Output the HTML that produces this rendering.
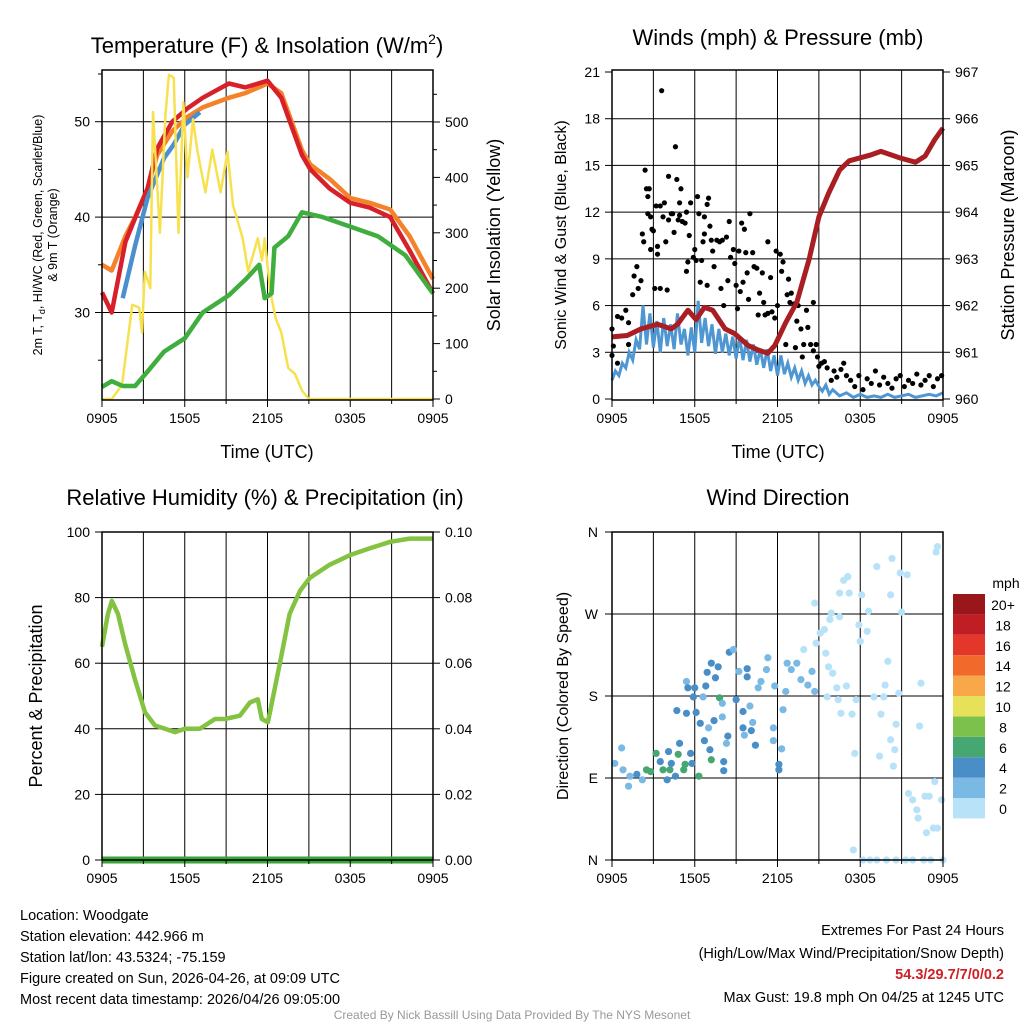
<!DOCTYPE html>
<html><head><meta charset="utf-8"><style>
html,body{margin:0;padding:0;background:#fff;}
svg{display:block;font-family:"Liberation Sans",Arial,sans-serif;}
</style></head><body>
<svg id="c" width="1024" height="1024" viewBox="0 0 1024 1024">
<rect width="1024" height="1024" fill="#fff"/>
</svg>
<script>
// ---------- data (time in hours since 0905 UTC) ----------
const tempT   = [0,0.7,1.7,2.4,3.3,4.0,5.1,6.2,7.3,9.2,10.4,12,13,14.5,15.1,16.5,18,19.4,20.9,22.3,24];
const tempRed = [32.1,30,37.4,39.9,43,47.2,50,51.4,52.5,54,53.6,54.3,52.5,46.5,45,43,41.5,41,40,36.5,32];
const tempOrg = [35,34.4,38,40,43,46.5,49,50.5,51.5,52.5,53,54,53,47,45.5,44,42,41.5,40.8,38,33.5];
const hiT     = [1.5,2.4,3.3,4.5,5.2,6,7.1];
const hiBlue  = [31.5,37,42,46.2,47.6,49.7,51];
const dewT    = [0,0.7,1.5,2.4,3.3,4.5,6,7.3,9.2,10.5,11.4,11.8,12.3,12.5,13.5,14.5,16,18,20,22,24];
const dewGrn  = [22.2,22.8,22.3,22.3,23.8,25.9,27.3,30,31.8,33.6,35,31.5,32,36.8,38,40.5,40,39,38,36,32];
const solT    = [0,0.7,1.45,2.2,2.7,2.9,3.1,3.5,3.7,4.2,4.6,4.85,5.2,5.55,5.9,6.2,6.6,6.9,7.5,8,8.6,9.1,9.5,10.2,10.6,11.3,11.6,11.8,12.2,12.6,13,13.5,14,14.5,15,24];
const solVal  = [0,0,25,170,165,120,230,200,518,300,512,585,580,300,536,400,505,450,373,450,373,446,350,290,230,290,250,290,193,145,120,56,45,15,0,0];
const windT   = [0,0.25,0.5,0.75,1,1.25,1.5,1.75,2,2.25,2.5,2.75,3,3.25,3.5,3.75,4,4.25,4.5,4.75,5,5.25,5.5,5.75,6,6.25,6.5,6.75,7,7.25,7.5,7.75,8,8.25,8.5,8.75,9,9.25,9.5,9.75,10,10.25,10.5,10.75,11,11.25,11.5,11.75,12,12.25,12.5,12.75,13,13.25,13.5,13.75,14,14.25,14.5,14.75,15,15.25,15.5,15.75,16,16.5,17,17.5,18,18.5,19,19.5,20,20.5,21,21.5,22,22.5,23,23.5,24];
const windBlue= [1.2,1.8,1.5,2.3,2.0,3.0,2.5,3.8,3.2,6.0,3.5,5.5,3.3,5.0,3.0,5.2,3.4,4.8,3.2,5.5,3.5,4.5,2.8,4.6,3.0,6.3,3.6,5.2,3.4,4.8,2.9,4.5,3.0,4.2,2.8,4.0,2.6,4.0,2.5,3.8,2.4,3.5,2.2,3.2,2.0,3.2,1.8,2.8,1.5,2.8,1.6,2.3,1.4,2.0,1.2,1.8,1.0,1.5,0.9,1.2,0.8,0.5,0.9,0.3,0.6,0.2,0.4,0.1,0.3,0.1,0.2,0.1,0.3,0.1,0.2,0.3,0.1,0.2,0.3,0.2,0.4];
const gusts = [[0,4.5],[0.1,3.4],[0,2.8],[0.4,2.3],[0.4,5.3],[0.7,5.2],[1,5.7],[1.2,4.9],[1.2,3.5],[1.5,6.7],[1.6,7.9],[1.8,8.5],[1.9,7.1],[2.1,7.6],[2.2,10.6],[2.3,10.1],[2.4,14.7],[2.5,13.5],[2.7,13.5],[2.6,13.0],[2.6,11.9],[2.8,11.7],[2.8,9.6],[2.9,10.9],[3,10.8],[3.1,7.1],[3.2,12.4],[3.3,9.8],[3.3,9.3],[3.5,12.4],[3.5,7.1],[3.6,19.8],[3.7,11.7],[3.8,12.6],[3.9,10.1],[4,7],[4.1,14.3],[4.1,11.5],[4.3,11.9],[4.4,11.9],[4.5,10.7],[4.6,16.2],[4.7,14.1],[4.8,11.5],[4.9,12.6],[4.9,11.8],[5,13.5],[5.1,11.4],[5.3,11.3],[5.4,8.2],[5.4,12],[5.5,8.8],[5.6,10.5],[5.7,12.6],[5.9,9.1],[6,9.6],[6.1,8.9],[6.2,13],[6.3,11.9],[6.4,7.5],[6.5,8.9],[6.6,10.1],[6.7,10.6],[6.7,11.7],[6.9,7.3],[6.9,12.5],[7,12.9],[7.1,11.1],[7.2,10.2],[7.3,9.5],[7.4,8.5],[7.6,10.2],[7.8,10.1],[7.9,7.1],[8,10.2],[8.1,6],[8.3,10.4],[8.4,7.6],[8.5,11.4],[8.6,9.1],[8.8,9.6],[8.9,8.7],[9,7.3],[9.1,5.8],[9.2,9.5],[9.3,6.9],[9.4,11.3],[9.5,7.5],[9.6,10.9],[9.7,9.4],[9.8,8.1],[9.9,6.4],[10,11.9],[10.2,9.4],[10.3,8.5],[10.5,8.4],[10.6,5.4],[10.7,6.8],[10.9,8.1],[11,6.2],[11.1,5.4],[11.3,10.1],[11.3,5.5],[11.5,7.8],[11.6,5.6],[11.8,5.2],[11.9,9.5],[12,6],[12.2,9.3],[12.3,8.2],[12.4,8.8],[12.6,3.5],[12.7,6.7],[12.8,7.7],[12.9,6.2],[13,6.8],[13.2,6.1],[13.3,3.3],[13.4,5.0],[13.5,6],[13.7,4.5],[13.8,2.7],[13.9,3.5],[14.1,5.7],[14.2,4.6],[14.4,3.5],[14.6,6.2],[14.6,3.1],[14.8,3.5],[14.9,2.7],[15,2.1],[15.2,2.3],[15.4,2.4],[15.6,2],[15.9,1.2],[16.1,1.8],[16.3,1.4],[16.6,1.9],[16.8,2.3],[17,1.5],[17.3,1.2],[17.6,0.8],[17.9,1.5],[18.2,0.6],[18.5,1.3],[18.8,1.0],[19.1,1.8],[19.4,0.9],[19.7,1.4],[20,1.0],[20.3,0.7],[20.6,1.3],[20.9,1.5],[21.2,0.8],[21.5,1.2],[21.8,1.0],[22.1,1.6],[22.4,0.9],[22.7,1.2],[23,1.5],[23.3,0.8],[23.6,1.3],[23.9,1.5]];
const presT   = [0,1.1,2.1,3.3,4.3,4.75,5.5,6.1,6.7,7.3,8.2,8.9,9.9,10.6,11.3,11.8,12.6,13.4,14.3,15,15.7,16.5,17.2,18.7,19.5,20.9,22,22.7,23.4,24];
const presVal = [961.33,961.36,961.5,961.6,961.5,961.6,961.9,961.7,961.96,961.9,961.5,961.4,961.14,961.05,960.98,961.14,961.64,962.07,963.0,963.9,964.4,964.9,965.1,965.22,965.3,965.16,965.07,965.2,965.55,965.8];
const rhT     = [0,0.43,0.72,1.16,1.67,2.39,3.12,3.84,4.57,5.29,6.01,7.1,8.19,8.91,10,10.72,11.3,11.59,12.03,12.32,12.9,13.6,14.35,15.07,16.5,18,19.4,20.9,22.3,24];
const rhVal   = [65,75,79,75,66,55,45,41,40,39,40,40,43,43,44,48,49,43,42,48,60,75,82,86,90,93,95,97,98,98];
const precipT = [0,24];
const precipVal = [0,0];
const dirPts = [[0.2,106,3],[0.7,123,3],[0.8,99,3],[1.2,81,3],[1.3,92,3],[1.8,94,5],[2.2,88,3],[2.5,99,7],[2.8,97,7],[3.2,117,7],[3.5,108,5],[3.7,99,7],[4.0,88,5],[4.1,119,5],[4.2,99,7],[4.3,106,5],[4.6,92,5],[4.8,116,7],[4.9,128,5],[5.2,99,7],[5.3,105,7],[5.7,117,5],[5.8,106,5],[6.3,92,7],[5.4,196,3],[5.5,189,5],[6.0,189,5],[5.9,179,5],[4.7,164,5],[5.4,161,5],[6.1,162,5],[6.4,150,5],[6.6,179,3],[6.8,191,5],[6.9,206,5],[7.2,216,5],[7.5,200,5],[7.7,212,5],[7.8,178,7],[8.0,172,3],[7.4,153,5],[7.0,145,3],[6.7,131,5],[7.1,121,5],[7.2,110,7],[8.1,108,5],[8.1,98,5],[8.0,157,3],[8.3,128,3],[8.4,136,5],[8.5,228,5],[8.8,231,3],[9.0,176,5],[9.2,207,3],[9.5,163,5],[9.8,210,5],[9.8,201,5],[10.0,169,3],[9.5,145,5],[9.6,137,3],[10.1,142,5],[10.4,126,5],[10.2,151,3],[10.6,189,3],[10.8,196,3],[11.2,209,3],[11.3,222,3],[11.7,145,3],[11.8,191,3],[12.1,99,5],[12.1,105,5],[12.3,122,3],[12.4,165,3],[11.7,131,3],[12.6,185,3],[12.7,216,3],[13.0,209,3],[13.4,216,3],[13.7,198,3],[13.9,231,1],[14.2,192,3],[14.5,207,3],[14.7,185,3],[14.7,282,1],[14.8,238,1],[15.1,249,1],[15.4,253,1],[15.5,227,1],[15.6,179,1],[15.7,212,1],[15.8,264,1],[15.9,271,1],[16.0,205,1],[16.3,189,1],[16.4,176,1],[16.5,293,1],[16.5,267,1],[16.6,161,1],[16.8,307,1],[17.0,191,1],[17.1,311,1],[17.2,293,1],[17.4,160,1],[17.6,117,1],[17.7,176,1],[17.9,258,1],[18.0,240,1],[18.1,291,1],[18.5,251,1],[18.6,273,1],[19.0,179,1],[19.2,322,1],[19.4,114,1],[19.5,160,1],[19.7,179,1],[19.8,192,1],[20.0,218,1],[20.2,291,1],[20.2,132,1],[20.3,331,1],[20.4,103,1],[20.5,121,1],[20.6,149,1],[20.8,183,1],[20.9,315,1],[21.0,272,1],[21.4,313,1],[21.5,73,1],[21.8,66,1],[22.1,55,1],[22.2,46,1],[22.3,147,1],[22.4,194,1],[22.7,70,1],[22.8,30,1],[23.0,70,1],[23.3,35,1],[23.4,86,1],[23.5,338,1],[23.6,344,1],[23.9,66,1],[23.6,35,1],[17.5,11,1],[18.2,0,1],[18.7,0,1],[19.2,0,1],[19.9,0,1],[20.6,0,1],[21.3,0,1],[21.8,0,1],[22.6,0,1],[23.1,0,1],[24.0,0,1]];
const xTickLabels = ["0905","1505","2105","0305","0905"];
const tempTicks = [30,40,50];
const solTicks = [0,100,200,300,400,500];
const windTicks = [0,3,6,9,12,15,18,21];
const presTicks = [960,961,962,963,964,965,966,967];
const rhTicks = [0,20,40,60,80,100];
const prTicks = ["0.00","0.02","0.04","0.06","0.08","0.10"];
const dirTicks = ["N","E","S","W","N"];
const speedLabels = ["0","2","4","6","8","10","12","14","16","18","20+"];
const speedColors = ["#b7e2f8","#7bb9e5","#4a8ec7","#46a772","#7cc14c","#e7e15a","#f8a848","#f26a2b","#e3372b","#c01d25","#99161b"];

// ---------- helpers ----------
const svg = document.getElementById('c');
const NS = 'http://www.w3.org/2000/svg';
function mk(tag, attrs, parent){const e=document.createElementNS(NS,tag);for(const k in attrs)e.setAttribute(k,attrs[k]);(parent||svg).appendChild(e);return e;}
function txt(x,y,s,size,anchor,parent,extra){const e=mk('text',Object.assign({x:x,y:y,'font-size':size,'text-anchor':anchor||'middle',fill:'#000'},extra||{}),parent);e.textContent=s;return e;}
function lin(d0,d1,r0,r1){return v=>r0+(v-d0)*(r1-r0)/(d1-d0);}
function pathOf(xs,ys,fx,fy){return xs.map((t,i)=>(i?'L':'M')+fx(t).toFixed(1)+','+fy(ys[i]).toFixed(1)).join('');}

function frame(name,L,T,R,B){
  const g=mk('g',{});
  
  
  const fx=lin(0,24,L,R);
  for(let h=3;h<24;h+=3) mk('line',{x1:fx(h),x2:fx(h),y1:T,y2:B,stroke:'#000','stroke-width':1},g);
  return {g,fx};
}
function xAxis(g,fx,B){
  for(let i=0;i<5;i++){const x=fx(i*6);txt(x,B+23,xTickLabels[i],14,'middle',g);mk('line',{x1:x,x2:x,y1:B,y2:B+7,stroke:'#000'},g);}
  for(let h=3;h<24;h+=6){mk('line',{x1:fx(h),x2:fx(h),y1:B,y2:B+4,stroke:'#000'},g);}
}
function border(g,L,T,R,B){mk('rect',{x:L,y:T,width:R-L,height:B-T,fill:'none',stroke:'#000','stroke-width':1.5},g);}

// ---------- Panel 1 ----------
(function(){
  const L=102,T=70,R=433,B=400;
  const {g,fx}=frame('temperature-panel',L,T,R,B);
  const fy=lin(30,50,312.5,121.7);
  const fs=lin(0,500,399,122);
  tempTicks.forEach(v=>{mk('line',{x1:L,x2:R,y1:fy(v),y2:fy(v),stroke:'#000'},g);mk('line',{x1:L-7,x2:L,y1:fy(v),y2:fy(v),stroke:'#000'},g);txt(L-12,fy(v)+5,String(v),14,'end',g);});
  [25,35,45,55].forEach(v=>mk('line',{x1:L-4,x2:L,y1:fy(v),y2:fy(v),stroke:'#000'},g));
  solTicks.forEach(v=>{mk('line',{x1:R,x2:R+7,y1:fs(v),y2:fs(v),stroke:'#000'},g);txt(R+12,fs(v)+5,String(v),14,'start',g);});
  [50,150,250,350,450,550].forEach(v=>mk('line',{x1:R,x2:R+4,y1:fs(v),y2:fs(v),stroke:'#000'},g));
  const o=mk('path',{d:pathOf(tempT,tempOrg,fx,fy),fill:'none',stroke:'#f5822a','stroke-width':4.5,'stroke-linejoin':'round'},g);
  
  const r=mk('path',{d:pathOf(tempT,tempRed,fx,fy),fill:'none',stroke:'#d7202a','stroke-width':4.5,'stroke-linejoin':'round'},g);
  
  const bl=mk('path',{d:pathOf(hiT,hiBlue,fx,fy),fill:'none',stroke:'#4a90cf','stroke-width':4.5,'stroke-linejoin':'round'},g);
  
  const s=mk('path',{d:pathOf(solT,solVal,fx,fs),fill:'none',stroke:'#f7e14f','stroke-width':2.5,'stroke-linejoin':'round'},g);
  
  const d=mk('path',{d:pathOf(dewT,dewGrn,fx,fy),fill:'none',stroke:'#3fae3f','stroke-width':4.5,'stroke-linejoin':'round'},g);
  
  border(g,L,T,R,B);xAxis(g,fx,B);
  const t=txt(267,53,'Temperature (F) & Insolation (W/m',22,'middle',g);
  const sup=document.createElementNS(NS,'tspan');sup.setAttribute('font-size',14);sup.setAttribute('dy',-9);sup.textContent='2';t.appendChild(sup);
  const cl=document.createElementNS(NS,'tspan');cl.setAttribute('dy',9);cl.textContent=')';t.appendChild(cl);
  
  txt(267,458,'Time (UTC)',18,'middle',g);
  const yl=mk('g',{transform:'translate(42,235) rotate(-90)'},g);
  txt(0,0,'2m T, T',12.5,'middle',yl).innerHTML='2m T, T<tspan font-size="9" dy="3">d</tspan><tspan dy="-3">, HI/WC (Red, Green, Scarlet/Blue)</tspan>';
  txt(0,15,'& 9m T (Orange)',12.5,'middle',yl);
  const yr=mk('g',{transform:'translate(500,235) rotate(-90)'},g);
  txt(0,0,'Solar Insolation (Yellow)',18,'middle',yr);
})();

// ---------- Panel 2 ----------
(function(){
  const L=612,T=70,R=943,B=400;
  const {g,fx}=frame('winds-panel',L,T,R,B);
  const fy=lin(0,21,399,72);
  const fp=lin(960,967,399,72);
  windTicks.forEach(v=>{if(v>0&&v<21)mk('line',{x1:L,x2:R,y1:fy(v),y2:fy(v),stroke:'#000'},g);mk('line',{x1:L-7,x2:L,y1:fy(v),y2:fy(v),stroke:'#000'},g);txt(L-12,fy(v)+5,String(v),14,'end',g);});
  presTicks.forEach(v=>{mk('line',{x1:R,x2:R+7,y1:fp(v),y2:fp(v),stroke:'#000'},g);txt(R+12,fp(v)+5,String(v),14,'start',g);});
  const w=mk('path',{d:pathOf(windT,windBlue,fx,fy),fill:'none',stroke:'#4f97d3','stroke-width':3},g);
  
  gusts.forEach(p=>{const c=mk('circle',{cx:fx(p[0]),cy:fy(p[1]),r:2.6,fill:'#000'},g);
    
    });
  const p=mk('path',{d:pathOf(presT,presVal,fx,fp),fill:'none',stroke:'#a81e23','stroke-width':5,'stroke-linejoin':'round'},g);
  
  border(g,L,T,R,B);xAxis(g,fx,B);
  txt(778,45,'Winds (mph) & Pressure (mb)',22,'middle',g);
  txt(778,458,'Time (UTC)',18,'middle',g);
  const yl=mk('g',{transform:'translate(566,235) rotate(-90)'},g);txt(0,0,'Sonic Wind & Gust (Blue, Black)',16,'middle',yl);
  const yr=mk('g',{transform:'translate(1014,235) rotate(-90)'},g);txt(0,0,'Station Pressure (Maroon)',18,'middle',yr);
})();

// ---------- Panel 3 ----------
(function(){
  const L=102,T=532,R=433,B=860;
  const {g,fx}=frame('humidity-panel',L,T,R,B);
  const fy=lin(0,100,860,532);
  const fpr=lin(0,0.1,860,532);
  rhTicks.forEach((v,i)=>{if(v>0&&v<100)mk('line',{x1:L,x2:R,y1:fy(v),y2:fy(v),stroke:'#000'},g);mk('line',{x1:L-7,x2:L,y1:fy(v),y2:fy(v),stroke:'#000'},g);txt(L-12,fy(v)+5,String(v),14,'end',g);
    mk('line',{x1:R,x2:R+7,y1:fy(v),y2:fy(v),stroke:'#000'},g);txt(R+12,fy(v)+5,prTicks[i],14,'start',g);});
  const rh=mk('path',{d:pathOf(rhT,rhVal,fx,fy),fill:'none',stroke:'#84c241','stroke-width':4.5,'stroke-linejoin':'round'},g);
  
  const pr=mk('path',{d:pathOf(precipT,precipVal,fx,fpr),fill:'none',stroke:'#3aa33a','stroke-width':7},g);
  
  border(g,L,T,R,B);xAxis(g,fx,B);
  txt(265,505,'Relative Humidity (%) & Precipitation (in)',22,'middle',g);
  const yl=mk('g',{transform:'translate(42,696) rotate(-90)'},g);txt(0,0,'Percent & Precipitation',18,'middle',yl);
})();

// ---------- Panel 4 ----------
(function(){
  const L=612,T=532,R=943,B=860;
  const {g,fx}=frame('wind-direction-panel',L,T,R,B);
  const fy=lin(0,360,860,532);
  dirTicks.forEach((s,i)=>{const y=fy(i*90);if(i>0&&i<4)mk('line',{x1:L,x2:R,y1:y,y2:y,stroke:'#000'},g);mk('line',{x1:L-7,x2:L,y1:y,y2:y,stroke:'#000'},g);txt(L-14,y+5,s,14,'end',g);});
  dirPts.forEach(p=>{const b=Math.min(10,Math.floor(p[2]/2));const c=mk('circle',{cx:fx(p[0]),cy:fy(p[1]),r:3.6,fill:speedColors[b]},g);
    
    });
  border(g,L,T,R,B);xAxis(g,fx,B);
  txt(778,505,'Wind Direction',22,'middle',g);
  const yl=mk('g',{transform:'translate(568,696) rotate(-90)'},g);txt(0,0,'Direction (Colored By Speed)',16,'middle',yl);
  const cb=mk('g',{},g);
  for(let i=0;i<11;i++){const y=798-i*20.4;mk('rect',{x:953,y:y,width:32,height:20.4,fill:speedColors[i]},cb);txt(1003,y+16,speedLabels[i],14,'middle',cb);}
  txt(1006,588,'mph',14,'middle',cb);
})();

// ---------- footer ----------
(function(){
  const g=mk('g',{});
  ['Location: Woodgate','Station elevation: 442.966 m','Station lat/lon: 43.5324; -75.159','Figure created on Sun, 2026-04-26, at 09:09 UTC','Most recent data timestamp: 2026/04/26 09:05:00'].forEach((s,i)=>txt(20,920+i*21,s,14.5,'start',g));
  const h=mk('g',{});
  txt(1004,935,'Extremes For Past 24 Hours',14.5,'end',h);
  txt(1004,958,'(High/Low/Max Wind/Precipitation/Snow Depth)',14.5,'end',h);
  txt(1004,979,'54.3/29.7/7/0/0.2',14.5,'end',h,{fill:'#d01f27','font-weight':'bold'});
  txt(1004,1002,'Max Gust: 19.8 mph On 04/25 at 1245 UTC',14.5,'end',h);
  const c=txt(512,1019,'Created By Nick Bassill Using Data Provided By The NYS Mesonet',12,'middle');
  c.setAttribute('fill','#999');
})();
</script>
</body></html>
